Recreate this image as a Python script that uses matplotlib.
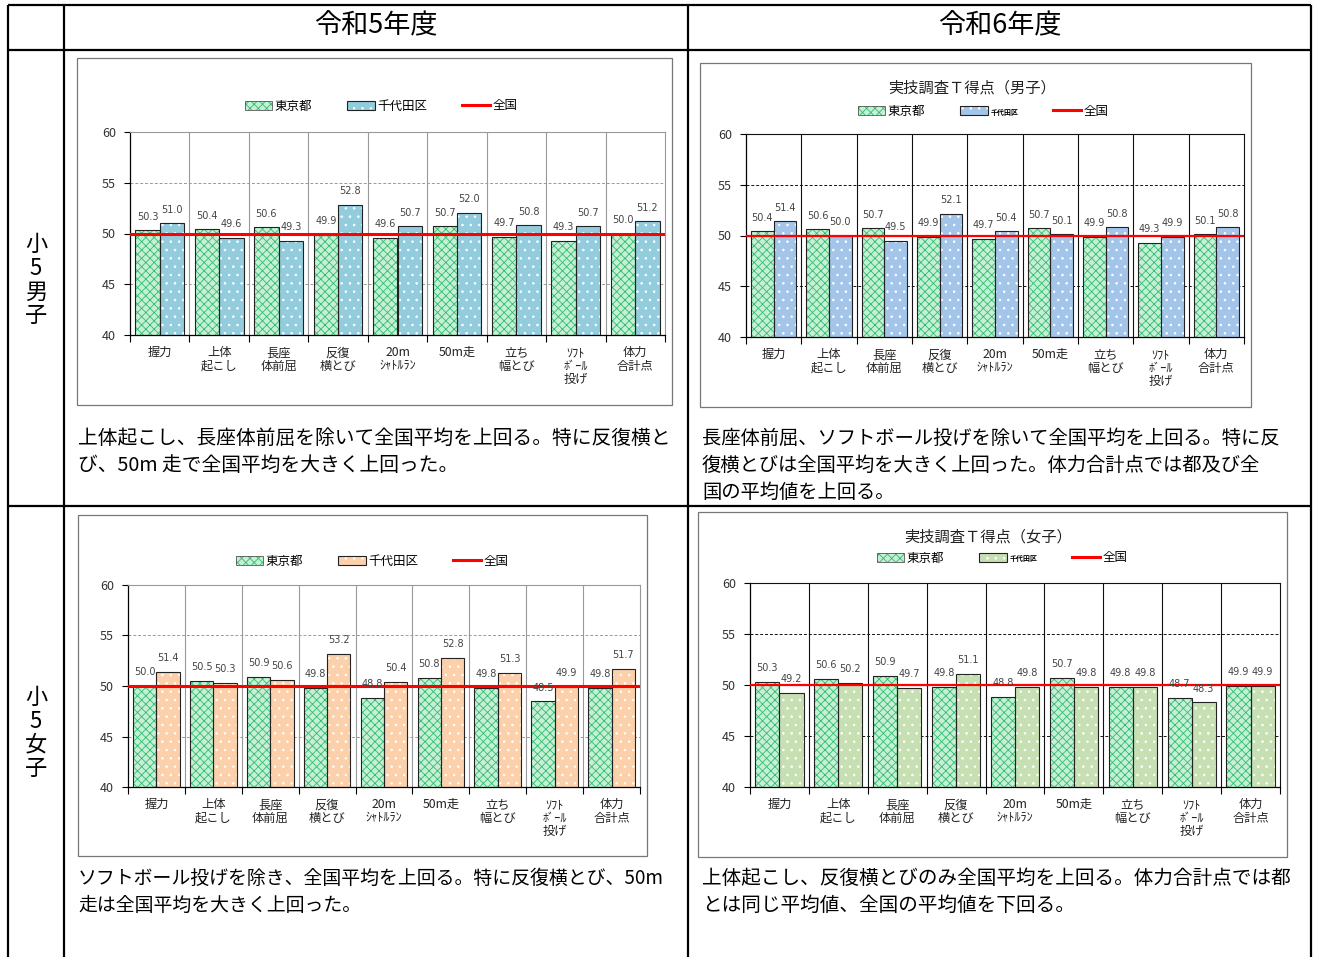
import numpy as np
import matplotlib
matplotlib.use('Agg')
import matplotlib.pyplot as plt
from matplotlib.patches import Patch, Rectangle
from matplotlib.lines import Line2D

plt.rcParams['font.family'] = ['Noto Sans CJK JP', 'DejaVu Sans']
plt.rcParams['hatch.linewidth'] = 0.6

W, H = 1317, 957

# ---- data ----
categories = ['握力', '上体\n起こし', '長座\n体前屈', '反復\n横とび', '20m\nｼｬﾄﾙﾗﾝ',
              '50m走', '立ち\n幅とび', 'ｿﾌﾄ\nﾎﾞｰﾙ\n投げ', '体力\n合計点']
series_names = ['東京都', '千代田区', '全国']
national = 50.0
years = ['令和5年度', '令和6年度']
groups = ['小5男子', '小5女子']

r5_boys_tokyo = [50.3, 50.4, 50.6, 49.9, 49.6, 50.7, 49.7, 49.3, 50.0]
r5_boys_chiyoda = [51.0, 49.6, 49.3, 52.8, 50.7, 52.0, 50.8, 50.7, 51.2]
r6_boys_tokyo = [50.4, 50.6, 50.7, 49.9, 49.7, 50.7, 49.9, 49.3, 50.1]
r6_boys_chiyoda = [51.4, 50.0, 49.5, 52.1, 50.4, 50.1, 50.8, 49.9, 50.8]
r5_girls_tokyo = [50.0, 50.5, 50.9, 49.8, 48.8, 50.8, 49.8, 48.5, 49.8]
r5_girls_chiyoda = [51.4, 50.3, 50.6, 53.2, 50.4, 52.8, 51.3, 49.9, 51.7]
r6_girls_tokyo = [50.3, 50.6, 50.9, 49.8, 48.8, 50.7, 49.8, 48.7, 49.9]
r6_girls_chiyoda = [49.2, 50.2, 49.7, 51.1, 49.8, 49.8, 49.8, 48.3, 49.9]

title_r6_boys = '実技調査Ｔ得点（男子）'
title_r6_girls = '実技調査Ｔ得点（女子）'

comment_r5_boys = ['上体起こし、長座体前屈を除いて全国平均を上回る。特に反復横と',
                   'び、50m 走で全国平均を大きく上回った。']
comment_r6_boys = ['長座体前屈、ソフトボール投げを除いて全国平均を上回る。特に反',
                   '復横とびは全国平均を大きく上回った。体力合計点では都及び全',
                   '国の平均値を上回る。']
comment_r5_girls = ['ソフトボール投げを除き、全国平均を上回る。特に反復横とび、50m',
                    '走は全国平均を大きく上回った。']
comment_r6_girls = ['上体起こし、反復横とびのみ全国平均を上回る。体力合計点では都',
                    'とは同じ平均値、全国の平均値を下回る。']

TOKYO_FACE = '#c6efd5'
TOKYO_HATCH = '#2fbd6e'


def frac(x0, y0, x1, y1):
    return [x0 / W, 1 - y1 / H, (x1 - x0) / W, (y1 - y0) / H]


fig = plt.figure(figsize=(W / 100, H / 100), dpi=100)
bg = fig.add_axes([0, 0, 1, 1])
bg.set_xlim(0, W)
bg.set_ylim(H, 0)
bg.axis('off')

# table grid
lw_tab = 1.6
for xv in [8, 64, 688, 1311]:
    bg.plot([xv, xv], [5, H], color='black', lw=lw_tab, solid_capstyle='butt')
for yv in [5, 50, 506]:
    bg.plot([8, 1311], [yv, yv], color='black', lw=lw_tab, solid_capstyle='butt')

bg.text(376, 26, years[0], ha='center', va='center', fontsize=19.5)
bg.text(1000, 26, years[1], ha='center', va='center', fontsize=19.5)
bg.text(36, 280, '\n'.join(groups[0]), ha='center', va='center', fontsize=16, linespacing=1.05)
bg.text(36, 733, '\n'.join(groups[1]), ha='center', va='center', fontsize=16, linespacing=1.05)


def draw_chart(box, plot, tokyo, chiyoda, chiyoda_face, grid_color, red_lw,
               legend_xy, title=None, title_xy=None, small_legend=False):
    bx0, by0, bx1, by1 = box
    bg.add_patch(Rectangle((bx0, by0), bx1 - bx0, by1 - by0, fill=False,
                           edgecolor='#777777', lw=0.9))
    ax = fig.add_axes(frac(*plot))
    x = np.arange(len(categories))
    w = 0.41
    ax.bar(x - w / 2, tokyo, w, color=TOKYO_FACE, edgecolor=TOKYO_HATCH,
           hatch='xxxx', lw=0, zorder=2)
    ax.bar(x - w / 2, tokyo, w, fill=False, edgecolor='#222222', lw=0.8, zorder=3)
    ax.bar(x + w / 2, chiyoda, w, color=chiyoda_face, edgecolor='white',
           hatch='..', lw=0, zorder=2)
    ax.bar(x + w / 2, chiyoda, w, fill=False, edgecolor='#222222', lw=0.8, zorder=3)
    ax.axhline(national, color='#ff0000', lw=red_lw, zorder=4)
    for xi, v in zip(x - w / 2, tokyo):
        ax.text(xi, v + 1.35, f'{v:.1f}', ha='center', va='center', fontsize=7,
                color='#444444', family='DejaVu Sans', zorder=5)
    for xi, v in zip(x + w / 2, chiyoda):
        ax.text(xi, v + 1.35, f'{v:.1f}', ha='center', va='center', fontsize=7,
                color='#444444', family='DejaVu Sans', zorder=5)

    ax.set_xlim(-0.5, len(categories) - 0.5)
    ax.set_ylim(40, 60)
    ax.set_yticks([40, 45, 50, 55, 60])
    ax.set_xticks(x)
    ax.set_xticklabels(categories, fontsize=8.8, linespacing=1.05, color='#222222')
    ax.set_xticks(np.arange(-0.5, len(categories)), minor=True)
    ax.tick_params(axis='x', which='major', length=0, pad=8)
    ax.tick_params(axis='x', which='minor', length=5, width=0.8, direction='out')
    ax.tick_params(axis='y', length=4, width=0.8, direction='out', labelsize=9,
                   labelcolor='#333333', pad=6)
    for yv in [45, 55]:
        ax.axhline(yv, color=grid_color, lw=0.7, ls=(0, (3, 2)), zorder=1)
    for xb in np.arange(0.5, len(categories) - 1):
        ax.axvline(xb, color=grid_color, lw=0.8, zorder=1)
    for s in ['top', 'right']:
        ax.spines[s].set_color(grid_color)
        ax.spines[s].set_linewidth(0.8)
    for s in ['left', 'bottom']:
        ax.spines[s].set_color('black')
        ax.spines[s].set_linewidth(0.9)

    h_tokyo = (Patch(facecolor=TOKYO_FACE, edgecolor=TOKYO_HATCH, hatch='xxxx', lw=0),
               Patch(fill=False, edgecolor='#555555', lw=0.6))
    h_chiyoda = (Patch(facecolor=chiyoda_face, edgecolor='white', hatch='..', lw=0),
                 Patch(fill=False, edgecolor='#222222', lw=0.8))
    h_nat = Line2D([], [], color='#ff0000', lw=2.2)
    leg = ax.legend([h_tokyo, h_chiyoda, h_nat], series_names, loc='center',
                    bbox_to_anchor=legend_xy, bbox_transform=bg.transData, ncol=3,
                    frameon=False, fontsize=9, handlelength=2.2, handleheight=0.7,
                    handletextpad=0.2, columnspacing=2.8)
    if small_legend:
        t = leg.get_texts()[1]
        t.set_fontsize(5)
        t.set_fontweight('bold')
    if title:
        bg.text(title_xy[0], title_xy[1], title, ha='center', va='center', fontsize=11,
                color='#222222')
    return ax


draw_chart((77, 58, 672, 405), (130, 132, 665, 335), r5_boys_tokyo, r5_boys_chiyoda,
           '#93cddd', '#999999', 2.2, (381, 106))
draw_chart((700, 63, 1251, 407), (746, 134, 1244, 337), r6_boys_tokyo, r6_boys_chiyoda,
           '#a3c5ea', '#111111', 1.6, (983, 111), title_r6_boys, (972, 88), True)
draw_chart((78, 515, 647, 856), (128, 585, 640, 787), r5_girls_tokyo, r5_girls_chiyoda,
           '#fbd0aa', '#999999', 2.2, (372, 561))
draw_chart((698, 512, 1287, 857), (750, 583, 1280, 787), r6_girls_tokyo, r6_girls_chiyoda,
           '#c6e0b4', '#111111', 1.6, (1002, 558), title_r6_girls, (988, 537), True)


def draw_comment(lines, x0, y0, size):
    for i, line in enumerate(lines):
        bg.text(x0, y0 + 27 * i, line, ha='left', va='center', fontsize=size,
                color='black')


draw_comment(comment_r5_boys, 78, 438, 14.2)
draw_comment(comment_r6_boys, 702, 438, 13.9)
draw_comment(comment_r5_girls, 78, 878, 13.6)
draw_comment(comment_r6_girls, 702, 878, 14.1)

fig.savefig('out.png', dpi=100)
